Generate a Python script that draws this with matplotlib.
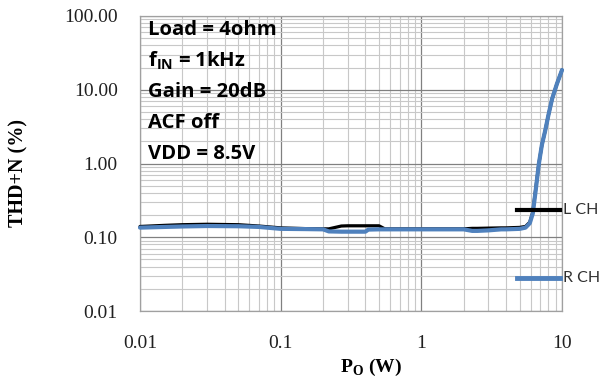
import matplotlib
matplotlib.use("Agg")
import matplotlib.pyplot as plt
from matplotlib.ticker import LogLocator, FixedLocator, NullFormatter

# Data (output power in W, THD+N in %)
power_w = [0.01, 0.015, 0.02, 0.03, 0.05, 0.07, 0.1, 0.15, 0.2, 0.22, 0.27, 0.3, 0.4,
           0.42, 0.5, 0.55, 0.7, 1.0, 1.5, 2.0, 2.3, 2.5, 3.0, 3.7, 4.0, 5.0, 5.5,
           5.9, 6.2, 6.5, 6.85, 7.2, 7.6, 8.0, 8.5, 9.2, 10.0]
thd_l = [0.140, 0.145, 0.148, 0.150, 0.148, 0.142, 0.134, 0.131, 0.130, 0.130, 0.142,
         0.143, 0.143, 0.143, 0.143, 0.130, 0.130, 0.130, 0.130, 0.130, 0.132, 0.132,
         0.133, 0.134, 0.134, 0.136, 0.140, 0.160, 0.220, 0.450, 1.00, 1.80, 2.80,
         4.50, 7.50, 12.0, 18.5]
thd_r = [0.135, 0.138, 0.140, 0.142, 0.141, 0.138, 0.130, 0.129, 0.128, 0.120, 0.119,
         0.119, 0.119, 0.127, 0.128, 0.128, 0.128, 0.128, 0.128, 0.128, 0.122, 0.122,
         0.124, 0.128, 0.128, 0.130, 0.135, 0.155, 0.210, 0.430, 1.00, 1.80, 2.80,
         4.50, 7.50, 12.0, 18.5]

y_ticks = [0.01, 0.1, 1, 10, 100]
y_tick_labels = ["0.01", "0.10", "1.00", "10.00", "100.00"]
x_ticks = [0.01, 0.1, 1, 10]
x_tick_labels = ["0.01", "0.1", "1", "10"]
conditions = ["Load = 4ohm", r"f$_{\mathregular{IN}}$ = 1kHz", "Gain = 20dB", "ACF off", "VDD = 8.5V"]
series_names = ["L CH", "R CH"]

W, H = 603, 380
fig = plt.figure(figsize=(W/100, H/100), dpi=100)
L, R, T, B = 140, 562, 16, 311
ax = fig.add_axes([L/W, 1-B/H, (R-L)/W, (B-T)/H])

ax.set_xscale("log")
ax.set_yscale("log")
ax.set_xlim(0.01, 10)
ax.set_ylim(0.01, 100)

ax.xaxis.set_major_locator(FixedLocator(x_ticks))
ax.yaxis.set_major_locator(FixedLocator(y_ticks))
ax.xaxis.set_minor_locator(LogLocator(base=10, subs=range(2, 10)))
ax.yaxis.set_minor_locator(LogLocator(base=10, subs=range(2, 10)))
ax.xaxis.set_minor_formatter(NullFormatter())
ax.yaxis.set_minor_formatter(NullFormatter())
ax.set_xticklabels(x_tick_labels, family="Liberation Serif", fontsize=14, color="#202020")
ax.set_yticklabels(y_tick_labels, family="Liberation Serif", fontsize=14, color="#202020")
ax.tick_params(which="both", length=0)
ax.tick_params(axis="y", pad=16)
ax.tick_params(axis="x", pad=17)

ax.grid(which="major", color="#808080", linewidth=0.9)
ax.grid(which="minor", color="#c8c8c8", linewidth=0.8)
for s in ax.spines.values():
    s.set_color("#a0a0a0")
    s.set_linewidth(0.9)

ax.plot(power_w, thd_l, color="black", linewidth=2.3, solid_capstyle="round", clip_on=False, zorder=3)
ax.plot(power_w, thd_r, color="#4f81bd", linewidth=3.0, solid_capstyle="round", clip_on=False, zorder=4)

fig.text(18/W, 1-173/H, "THD+N (%)", rotation=90, family="Liberation Serif", fontweight="bold",
         fontsize=14.5, va="center", ha="center")
fig.text(371/W, 1-367/H, r"P$_{\mathregular{O}}$ (W)", family="Liberation Serif", fontweight="bold",
         fontsize=14, va="center", ha="center")

# Conditions text block
for i, t in enumerate(conditions):
    fig.text(148/W, 1-(30 + i*31)/H, t, family="Open Sans", fontweight="bold",
             fontsize=14.6, va="center", ha="left", color="black")

# Manual legend
leg_y = [210, 278]
leg_colors = ["black", "#4f81bd"]
leg_widths = [3.0, 3.5]
for name, yy, c, lw in zip(series_names, leg_y, leg_colors, leg_widths):
    fy = 1 - yy/H
    fig.add_artist(plt.Line2D([517/W, 560/W], [fy, fy], color=c, linewidth=lw,
                              transform=fig.transFigure, zorder=5))
    fig.text(563/W, fy, name, family="Lato", fontsize=11.5, va="center", ha="left", color="#303030")

fig.savefig("out.png", dpi=100)
